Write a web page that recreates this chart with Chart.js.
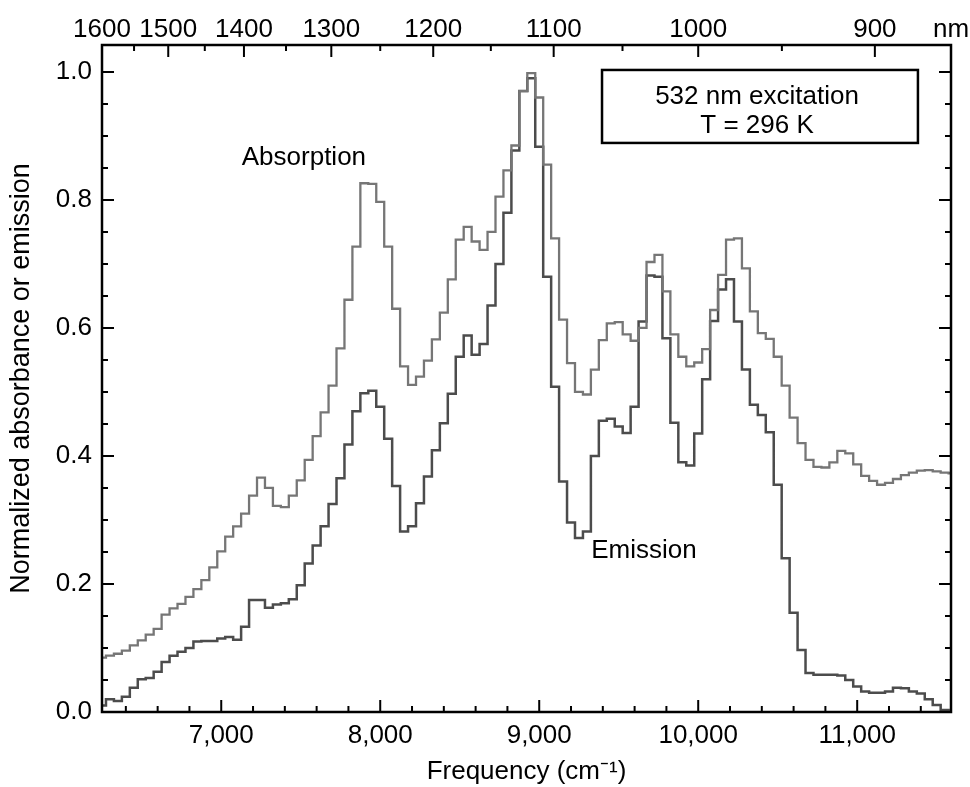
<!DOCTYPE html>
<html><head><meta charset="utf-8">
<script src="https://cdn.jsdelivr.net/npm/chart.js@4.4.1/dist/chart.umd.min.js"></script>
<style>html,body{margin:0;padding:0;background:#fff}canvas{display:block}</style>
</head><body>
<canvas id="c" width="970" height="787"></canvas>
<script>
// ---- data (wavenumber in cm^-1) ----
const wavenumbers = [6250,6300,6350,6400,6450,6500,6550,6600,6650,6700,
 6750,6800,6850,6900,6950,7000,7050,7100,7150,7200,
 7250,7300,7350,7400,7450,7500,7550,7600,7650,7700,
 7750,7800,7850,7900,7950,8000,8050,8100,8150,8200,
 8250,8300,8350,8400,8450,8500,8550,8600,8650,8700,
 8750,8800,8850,8900,8950,9000,9050,9100,9150,9200,
 9250,9300,9350,9400,9450,9500,9550,9600,9650,9700,
 9750,9800,9850,9900,9950,10000,10050,10100,10150,10200,
 10250,10300,10350,10400,10450,10500,10550,10600,10650,10700,
 10750,10800,10850,10900,10950,11000,11050,11100,11150,11200,
 11250,11300,11350,11400,11450,11500,11550,11600];
const absorption = [0.085,0.088,0.091,0.096,0.104,0.112,0.121,0.130,0.152,0.162,
 0.169,0.180,0.192,0.206,0.226,0.251,0.274,0.290,0.310,0.338,
 0.366,0.350,0.322,0.320,0.338,0.362,0.394,0.431,0.468,0.510,
 0.568,0.644,0.727,0.826,0.825,0.797,0.727,0.630,0.540,0.511,
 0.524,0.549,0.582,0.624,0.676,0.738,0.758,0.735,0.722,0.750,
 0.805,0.846,0.885,0.970,0.998,0.960,0.855,0.740,0.613,0.545,
 0.500,0.496,0.535,0.581,0.607,0.609,0.590,0.580,0.600,0.703,
 0.714,0.657,0.590,0.555,0.540,0.546,0.567,0.628,0.683,0.738,
 0.740,0.693,0.626,0.592,0.583,0.555,0.510,0.460,0.420,0.394,
 0.383,0.382,0.390,0.408,0.404,0.387,0.369,0.361,0.355,0.358,
 0.364,0.370,0.374,0.377,0.378,0.376,0.374,0.373];
const emission = [0.010,0.020,0.017,0.024,0.038,0.051,0.053,0.063,0.078,0.088,
 0.094,0.100,0.110,0.111,0.111,0.115,0.117,0.113,0.133,0.175,
 0.175,0.163,0.168,0.170,0.176,0.198,0.232,0.260,0.290,0.325,
 0.365,0.418,0.470,0.498,0.502,0.477,0.427,0.353,0.282,0.290,
 0.326,0.368,0.409,0.451,0.497,0.555,0.588,0.558,0.575,0.635,
 0.700,0.780,0.877,0.970,0.990,0.883,0.680,0.508,0.360,0.296,
 0.272,0.282,0.400,0.455,0.458,0.446,0.436,0.477,0.610,0.682,
 0.680,0.584,0.452,0.390,0.385,0.435,0.520,0.611,0.660,0.676,
 0.610,0.535,0.480,0.464,0.437,0.355,0.240,0.155,0.097,0.061,
 0.058,0.058,0.058,0.057,0.050,0.040,0.032,0.030,0.030,0.032,
 0.038,0.037,0.032,0.029,0.020,0.011,0.003,0.000];

// ---- ticks ----
const yTicks = [0,0.05,0.1,0.15,0.2,0.25,0.3,0.35,0.4,0.45,0.5,0.55,0.6,0.65,0.7,0.75,0.8,0.85,0.9,0.95,1.0];
const yMajorTicks = [0,0.2,0.4,0.6,0.8,1.0];
const xTicks = [6400,6600,6800,7000,7200,7400,7600,7800,8000,8200,8400,8600,8800,9000,9200,9400,9600,9800,10000,10200,10400,10600,10800,11000,11200,11400];
const xMajorTicks = [7000,8000,9000,10000,11000];
const nmTicks = [1600,1550,1500,1450,1400,1350,1300,1250,1200,1150,1100,1050,1000,950,900];
const nmLabels = [1600,1500,1400,1300,1200,1100,1000,900];

// ---- texts ----
const yTitle = 'Normalized absorbance or emission';
const xTitle = 'Frequency (cm\u207B\u00B9)';
const absLabel = {text:'Absorption', x:7520, y:0.866};
const emiLabel = {text:'Emission', x:9659, y:0.252};
const infoBox = {x0:9395, x1:11382, y0:1.003, y1:0.889, lines:[{text:'532 nm excitation', y:0.961},{text:'T = 296 K', y:0.916}], cx:10370};

const X_MIN = 6250, X_MAX = 11590, Y_MIN = 0, Y_MAX = 1.042;
const FONT = '"Liberation Sans", Arial, Helvetica, sans-serif';

const framePlugin = {
  id: 'frame',
  afterDatasetsDraw(chart) {
    const {ctx, chartArea: a, scales} = chart;
    const x = scales.x, y = scales.y, t = scales.x2;
    ctx.save();
    ctx.strokeStyle = '#000';
    ctx.lineWidth = 2;
    ctx.beginPath();
    x.ticks.forEach(tk => {
      const px = x.getPixelForValue(tk.value);
      const L = xMajorTicks.includes(tk.value) ? 12 : 6;
      ctx.moveTo(px, a.bottom); ctx.lineTo(px, a.bottom - L);
    });
    t.ticks.forEach(tk => {
      if (tk.nm === undefined) return;
      const px = t.getPixelForValue(tk.value);
      if (px < a.left + 1) return;
      const L = nmLabels.includes(tk.nm) ? 12 : 6;
      ctx.moveTo(px, a.top); ctx.lineTo(px, a.top + L);
    });
    y.ticks.forEach(tk => {
      const py = y.getPixelForValue(tk.value);
      const major = yMajorTicks.some(m => Math.abs(m - tk.value) < 1e-9);
      const L = major ? 12 : 6;
      ctx.moveTo(a.left, py); ctx.lineTo(a.left + L, py);
      ctx.moveTo(a.right, py); ctx.lineTo(a.right - L, py);
    });
    ctx.stroke();
    ctx.lineWidth = 2.5;
    ctx.strokeRect(a.left, a.top, a.right - a.left, a.bottom - a.top);

    // annotations
    ctx.fillStyle = '#000';
    ctx.font = '26px ' + FONT;
    ctx.textAlign = 'center';
    ctx.textBaseline = 'middle';
    ctx.fillText(absLabel.text, x.getPixelForValue(absLabel.x), y.getPixelForValue(absLabel.y));
    ctx.fillText(emiLabel.text, x.getPixelForValue(emiLabel.x), y.getPixelForValue(emiLabel.y));
    const bx0 = x.getPixelForValue(infoBox.x0), bx1 = x.getPixelForValue(infoBox.x1);
    const by0 = y.getPixelForValue(infoBox.y0), by1 = y.getPixelForValue(infoBox.y1);
    ctx.fillStyle = '#fff';
    ctx.fillRect(bx0, by0, bx1 - bx0, by1 - by0);
    ctx.lineWidth = 2.5;
    ctx.strokeRect(bx0, by0, bx1 - bx0, by1 - by0);
    ctx.fillStyle = '#000';
    infoBox.lines.forEach(l => ctx.fillText(l.text, x.getPixelForValue(infoBox.cx), y.getPixelForValue(l.y)));
    ctx.restore();
  }
};

new Chart(document.getElementById('c'), {
  type: 'line',
  data: {
    datasets: [
      {label: 'Absorption', data: wavenumbers.map((w, i) => ({x: w, y: absorption[i]})),
       borderColor: '#767676', borderWidth: 2.3, pointRadius: 0, stepped: 'middle', fill: false},
      {label: 'Emission', data: wavenumbers.map((w, i) => ({x: w, y: emission[i]})),
       borderColor: '#4c4c4c', borderWidth: 2.5, pointRadius: 0, stepped: 'middle', fill: false}
    ]
  },
  options: {
    responsive: false,
    animation: false,
    devicePixelRatio: 1,
    layout: {padding: {left: 0, right: 19, top: 0, bottom: 0}},
    plugins: {legend: {display: false}, tooltip: {enabled: false}},
    scales: {
      x: {
        type: 'linear', position: 'bottom', min: X_MIN, max: X_MAX,
        grid: {display: false, drawTicks: false}, border: {display: false},
        afterBuildTicks: s => { s.ticks = xTicks.map(v => ({value: v})); },
        afterFit: s => { s.height = 75; },
        ticks: {autoSkip: false, maxRotation: 0, minRotation: 0, padding: 8, color: '#000',
          font: {family: FONT, size: 26},
          callback: v => xMajorTicks.includes(v) ? v.toLocaleString('en-US') : ''},
        title: {display: true, text: xTitle, color: '#000', font: {family: FONT, size: 26}, padding: {top: 0, bottom: 0}}
      },
      x2: {
        type: 'linear', position: 'top', min: X_MIN, max: X_MAX,
        grid: {display: false, drawTicks: false}, border: {display: false},
        afterBuildTicks: s => {
          s.ticks = nmTicks.map(nm => ({value: 1e7 / nm, nm: nm})).concat([{value: X_MAX}]);
        },
        afterFit: s => { s.height = 45; },
        ticks: {autoSkip: false, maxRotation: 0, minRotation: 0, padding: 0, color: '#000',
          font: {family: '"Liberation Sans Narrow", ' + FONT, size: 26},
          callback: (v, i, ticks) => {
            const nm = ticks[i].nm;
            if (nm === undefined) return 'nm';
            return nmLabels.includes(nm) ? String(nm) : '';
          }}
      },
      y: {
        type: 'linear', position: 'left', min: Y_MIN, max: Y_MAX,
        grid: {display: false, drawTicks: false}, border: {display: false},
        afterBuildTicks: s => { s.ticks = yTicks.map(v => ({value: v})); },
        afterFit: s => { s.width = 102; },
        ticks: {autoSkip: false, padding: 10, color: '#000',
          font: {family: FONT, size: 26},
          callback: v => yMajorTicks.some(m => Math.abs(m - v) < 1e-9) ? v.toFixed(1) : ''},
        title: {display: true, text: yTitle, color: '#000', font: {family: FONT, size: 27}, padding: {top: 5, bottom: 0}}
      }
    }
  },
  plugins: [framePlugin]
});
</script>
</body></html>
